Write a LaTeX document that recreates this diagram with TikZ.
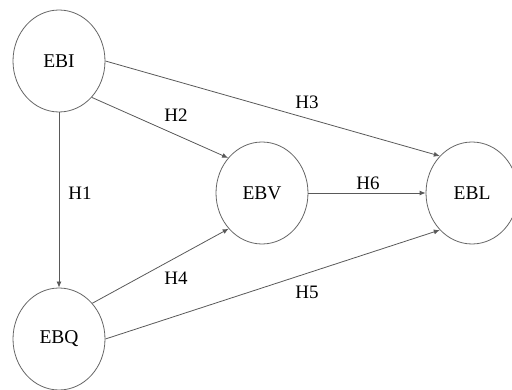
\documentclass[tikz,border=0pt]{standalone}
\usepackage{fontspec}
\setmainfont{Liberation Serif}
\usepackage{tikz}
\usetikzlibrary{shapes.geometric, arrows.meta}

\begin{document}
\begin{tikzpicture}[x=1pt, y=-1pt,
  construct/.style={ellipse, draw=black!60, line width=0.8pt, minimum width=92pt, minimum height=102pt, inner sep=0pt, font=\fontsize{19.5}{21}\selectfont},
  hyp/.style={draw=black!65, line width=0.8pt, -{Latex[length=6pt, width=5pt]}},
  lab/.style={inner sep=0pt, font=\fontsize{19}{21}\selectfont}]
\useasboundingbox (0,0) rectangle (512,390);

% constructs
\node[construct] (ebi) at (59,61) {EBI};
\node[construct] (ebv) at (262,193) {EBV};
\node[construct] (ebl) at (472,193) {EBL};
\node[construct] (ebq) at (59,339) {EBQ};

% hypotheses
\draw[hyp] (ebi.south) -- (ebq.north);
\draw[hyp] (ebi.-48) -- (ebv.134);
\draw[hyp] (ebi.east) -- (ebl.131);
\draw[hyp] (ebq.47) -- (ebv.-133);
\draw[hyp] (ebq.east) -- (ebl.-131);
\draw[hyp] (ebv.east) -- (ebl.west);

\node[lab] (h1) at (80,193) {H1};
\node[lab] (h2) at (176,115) {H2};
\node[lab] (h3) at (307,102) {H3};
\node[lab] (h4) at (176,278) {H4};
\node[lab] (h5) at (307,292) {H5};
\node[lab] (h6) at (368,183) {H6};
\end{tikzpicture}
\end{document}
